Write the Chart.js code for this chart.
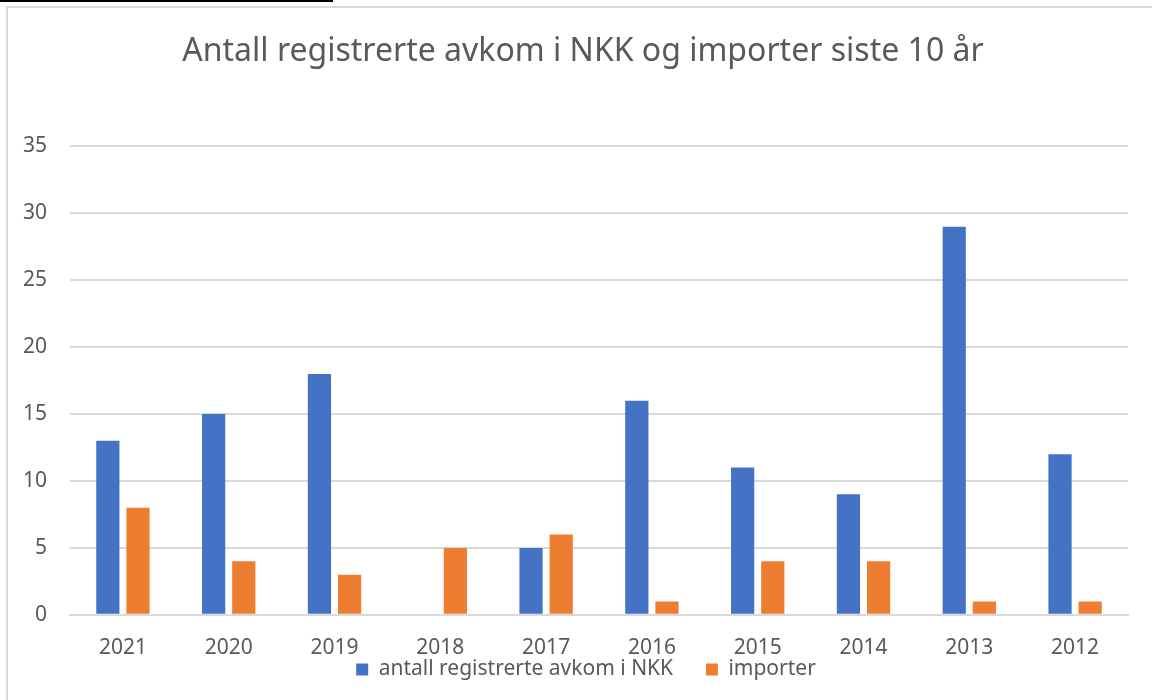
<!DOCTYPE html>
<html>
<head>
<meta charset="utf-8">
<script src="https://cdn.jsdelivr.net/npm/chart.js@4"></script>
<style>
  html, body { margin: 0; padding: 0; background: #fff; overflow: hidden; }
  #frame {
    position: absolute; left: 6px; top: 6px; width: 1160px; height: 710px;
    border: 2px solid #d9d9d9; box-sizing: border-box;
  }
  #topline { position: absolute; left: 0; top: 0; width: 333px; height: 2px; background: #000; }
  #wrap { position: absolute; left: 0; top: 0; width: 1168px; height: 700px; }
</style>
</head>
<body>
<div id="frame"></div>
<div id="topline"></div>
<div id="wrap"><canvas id="chart" width="1168" height="700"></canvas></div>
<script>
// data
const years = ['2021', '2020', '2019', '2018', '2017', '2016', '2015', '2014', '2013', '2012'];
const avkom = [13, 15, 18, 0, 5, 16, 11, 9, 29, 12];
const importer = [8, 4, 3, 5, 6, 1, 4, 4, 1, 1];
const yTicks = [0, 5, 10, 15, 20, 25, 30, 35];

const fontFam = "'Noto Sans', 'Open Sans', sans-serif";

// title and legend are centred on the whole chart box, not the plot area
const shiftBlocks = {
    id: 'shiftBlocks',
    afterLayout: (chart) => {
        if (chart.titleBlock) { chart.titleBlock.left += 19; chart.titleBlock.right += 19; }
        if (chart.legend) { chart.legend.left += 22; chart.legend.right += 22; }
    }
};

var ctx = document.getElementById('chart').getContext('2d');
var chart = new Chart(ctx, {
    type: 'bar',
    data: {
        labels: years,
        datasets: [
            {
                // trailing spaces give the gap between the two legend items
                label: 'antall registrerte avkom i NKK      ',
                backgroundColor: '#4472c4',
                data: avkom,
                barPercentage: 0.77,
                categoryPercentage: 0.57
            },
            {
                label: 'importer',
                backgroundColor: '#ed7d31',
                data: importer,
                barPercentage: 0.77,
                categoryPercentage: 0.57
            }
        ]
    },
    options: {
        responsive: false,
        animation: false,
        layout: {
            padding: { left: 0, right: 40, top: 0, bottom: 10 }
        },
        scales: {
            x: {
                grid: { display: false },
                border: { color: '#d9d9d9', width: 2 },
                afterFit: function(axis) {
                    axis.height -= 15;
                },
                ticks: {
                    color: '#595959',
                    padding: 13,
                    font: { size: 21, family: fontFam }
                }
            },
            y: {
                min: 0,
                max: 35,
                afterBuildTicks: function(axis) {
                    axis.ticks = yTicks.map(v => ({ value: v }));
                },
                grid: { color: '#d9d9d9', lineWidth: 2, drawTicks: false },
                border: { display: false },
                ticks: {
                    color: '#595959',
                    padding: 23,
                    font: { size: 21, family: fontFam }
                }
            }
        },
        plugins: {
            title: {
                display: true,
                text: 'Antall registrerte avkom i NKK og importer siste 10 år',
                color: '#595959',
                font: { size: 32, weight: 'normal', family: fontFam },
                padding: { top: 33, bottom: 75 }
            },
            legend: {
                position: 'bottom',
                labels: {
                    color: '#595959',
                    font: { size: 21, family: fontFam },
                    boxWidth: 12,
                    boxHeight: 12,
                    padding: 0
                }
            },
            tooltip: { enabled: false }
        }
    },
    plugins: [shiftBlocks]
});
</script>
</body>
</html>
